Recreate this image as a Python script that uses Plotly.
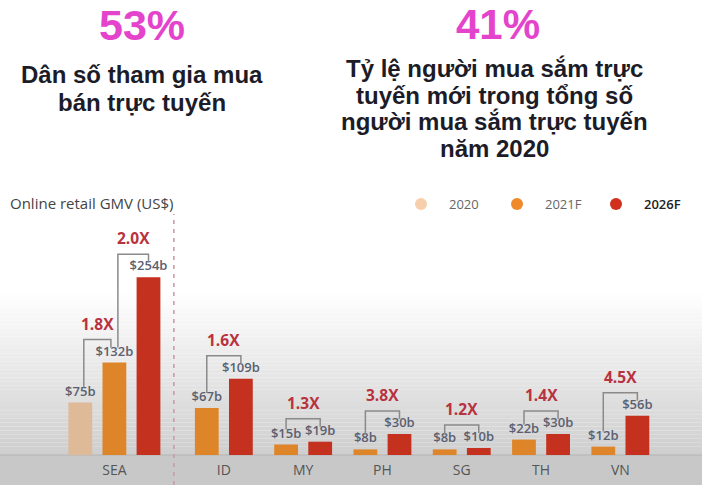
import plotly.graph_objects as go

# ---------------- data ----------------
CATEGORIES = ["SEA", "ID", "MY", "PH", "SG", "TH", "VN"]
SERIES = ["2020", "2021F", "2026F"]
V2020 = [75, None, None, None, None, None, None]
V2021F = [132, 67, 15, 8, 8, 22, 12]
V2026F = [254, 109, 19, 30, 10, 30, 56]
# growth brackets: (category, from series, to series, label)
BRACKETS = [
    ("SEA", "2020", "2021F", "1.8X"),
    ("SEA", "2021F", "2026F", "2.0X"),
    ("ID", "2021F", "2026F", "1.6X"),
    ("MY", "2021F", "2026F", "1.3X"),
    ("PH", "2021F", "2026F", "3.8X"),
    ("SG", "2021F", "2026F", "1.2X"),
    ("TH", "2021F", "2026F", "1.4X"),
    ("VN", "2021F", "2026F", "4.5X"),
]
STAT_LEFT = "53%"
STAT_LEFT_LINES = ["Dân số tham gia mua", "bán trực tuyến"]
STAT_RIGHT = "41%"
STAT_RIGHT_LINES = ["Tỷ lệ người mua sắm trực", "tuyến mới trong tổng số",
                    "người mua sắm trực tuyến", "năm 2020"]
CHART_TITLE = "Online retail GMV (US$)"

VALUES = {"2020": V2020, "2021F": V2021F, "2026F": V2026F}

# ---------------- styling / layout ----------------
W, H = 702, 485
MB = 30                      # bottom margin (px)
PLOT_H = H - MB              # plot area height (px)
Y_MAX = 650                  # y range top (data units)
PX = Y_MAX / PLOT_H          # data units per pixel
UNIT_PX = 79.3               # pixels per x unit
X0_PX = 114.4                # pixel position of first group centre
SEA_GAP = 1.38               # extra spacing after the regional group
BAR_STEP = 0.43
BAR_W = 0.30
BAR_COLORS = {"2020": "#dfba98", "2021F": "#de8529", "2026F": "#c4311f"}
LEGEND_COLORS = {"2020": "#f6cfad", "2021F": "#ef8a2b", "2026F": "#d1301d"}
LABEL_COLOR = "#5b6070"
MULT_COLOR = "#b8323f"
BRACKET_COLOR = "#8a8a8a"
MAGENTA = "#e444cc"
DARK = "#1c1c28"

centers = [0.0] + [SEA_GAP + i for i in range(len(CATEGORIES) - 1)]


def bar_x(ci, series):
    present = [s for s in SERIES if VALUES[s][ci] is not None]
    idx = present.index(series)
    return centers[ci] + (idx - (len(present) - 1) / 2) * BAR_STEP


def px_x(p):
    return p / W


def px_y(p):
    return 1 - p / PLOT_H


fig = go.Figure()

for s in SERIES:
    xs, ys, txt = [], [], []
    for ci, v in enumerate(VALUES[s]):
        if v is None:
            continue
        xs.append(bar_x(ci, s))
        ys.append(v)
        txt.append(f"${v}b")
    fig.add_trace(go.Bar(
        x=xs, y=ys, width=BAR_W, name=s,
        marker=dict(color=BAR_COLORS[s], line=dict(width=0)),
        text=txt, textposition="outside", constraintext="none", cliponaxis=False,
        textfont=dict(family="Open Sans", size=13, color=LABEL_COLOR, weight=600),
        showlegend=False, hoverinfo="skip",
    ))

shapes = []
# background gradient above baseline
g_top, g_bot, n = 292, PLOT_H, 40
for i in range(n):
    t = (i + 0.5) / n
    c = int(round(255 - (255 - 206) * t))
    y0 = g_top + (g_bot - g_top) * i / n
    y1 = g_top + (g_bot - g_top) * (i + 1) / n
    shapes.append(dict(type="rect", xref="paper", yref="paper", x0=0, x1=1,
                       y0=px_y(y1), y1=px_y(y0), line=dict(width=0),
                       fillcolor=f"rgb({c},{c},{c})", layer="below"))
# band below baseline
shapes.append(dict(type="rect", xref="paper", yref="paper", x0=0, x1=1,
                   y0=px_y(H), y1=0, line=dict(width=0),
                   fillcolor="#c8c8c8", layer="below"))
shapes.append(dict(type="line", xref="paper", yref="paper", x0=0, x1=1, y0=0, y1=0,
                   line=dict(color="#b4b4b4", width=1), layer="below"))
# dashed divider after regional group
div_x = 0.75
shapes.append(dict(type="line", xref="x", yref="paper", x0=div_x, x1=div_x,
                   y0=px_y(H), y1=px_y(214),
                   line=dict(color="#cf9aaa", width=1.6, dash="4px,5px")))

annotations = []
# growth brackets
for cat, s_from, s_to, lab in BRACKETS:
    ci = CATEGORIES.index(cat)
    va, vb = VALUES[s_from][ci], VALUES[s_to][ci]
    inset = 3.5 / UNIT_PX if cat == "SEA" else 0.0
    xa = bar_x(ci, s_from) + inset
    if cat == "SEA" and s_from == "2020":
        xb = bar_x(ci, s_to) - inset
    else:
        xb = bar_x(ci, s_to)
    top = max(va, vb) + 23 * PX
    ya = va + 15 * PX
    yb = vb + 15 * PX
    shapes.append(dict(type="path", xref="x", yref="y",
                       path=f"M {xa},{ya} L {xa},{top} L {xb},{top} L {xb},{yb}",
                       line=dict(color=BRACKET_COLOR, width=1.5)))
    annotations.append(dict(x=(xa + xb) / 2, y=top, xref="x", yref="y",
                            text=lab, showarrow=False, yanchor="bottom", yshift=3,
                            font=dict(family="Open Sans", size=15.5, color=MULT_COLOR, weight=700)))

# headline stats
annotations.append(dict(x=px_x(142), y=px_y(25), xref="paper", yref="paper", text=STAT_LEFT,
                        showarrow=False, xanchor="center", yanchor="middle",
                        font=dict(family="Liberation Sans", size=43, color=MAGENTA, weight=700)))
for i, line in enumerate(STAT_LEFT_LINES):
    annotations.append(dict(x=px_x(142), y=px_y(75 + 28 * i), xref="paper", yref="paper",
                            text=line, showarrow=False, xanchor="center", yanchor="middle",
                            font=dict(family="Liberation Sans", size=24, color=DARK, weight=700)))
annotations.append(dict(x=px_x(498), y=px_y(24), xref="paper", yref="paper", text=STAT_RIGHT,
                        showarrow=False, xanchor="center", yanchor="middle",
                        font=dict(family="Liberation Sans", size=42, color=MAGENTA, weight=700)))
for i, line in enumerate(STAT_RIGHT_LINES):
    annotations.append(dict(x=px_x(494), y=px_y(68 + 27 * i), xref="paper", yref="paper",
                            text=line, showarrow=False, xanchor="center", yanchor="middle",
                            font=dict(family="Liberation Sans", size=24, color=DARK, weight=700)))

# chart title
annotations.append(dict(x=px_x(8), y=px_y(203), xref="paper", yref="paper", text=CHART_TITLE,
                        showarrow=False, xanchor="left", yanchor="middle",
                        font=dict(family="Open Sans", size=15, color="#444444")))

# manual legend
leg_cx = [421, 517, 616]
leg_cy = 204
for s, cx in zip(SERIES, leg_cx):
    r = 6
    shapes.append(dict(type="circle", xref="paper", yref="paper",
                       x0=px_x(cx - r), x1=px_x(cx + r), y0=px_y(leg_cy + r), y1=px_y(leg_cy - r),
                       fillcolor=LEGEND_COLORS[s], line=dict(width=0)))
    annotations.append(dict(x=px_x(cx + 26), y=px_y(leg_cy), xref="paper", yref="paper", text=s,
                            showarrow=False, xanchor="left", yanchor="middle",
                            font=dict(family="Open Sans", size=13,
                                      color="#222222" if s == "2026F" else "#666666",
                                      weight=600 if s == "2026F" else 400)))

fig.update_layout(
    width=W, height=H,
    margin=dict(l=0, r=0, t=0, b=MB, pad=0),
    paper_bgcolor="white", plot_bgcolor="white",
    barmode="overlay",
    showlegend=False,
    shapes=shapes, annotations=annotations,
    xaxis=dict(range=[-X0_PX / UNIT_PX, (W - X0_PX) / UNIT_PX],
               tickvals=centers, ticktext=CATEGORIES,
               tickfont=dict(family="Open Sans", size=14, color="#555555"),
               ticklabelstandoff=5,
               showgrid=False, zeroline=False, showline=False, ticks="",
               fixedrange=True),
    yaxis=dict(range=[0, Y_MAX], visible=False, fixedrange=True),
)

fig.write_html("out.html")
